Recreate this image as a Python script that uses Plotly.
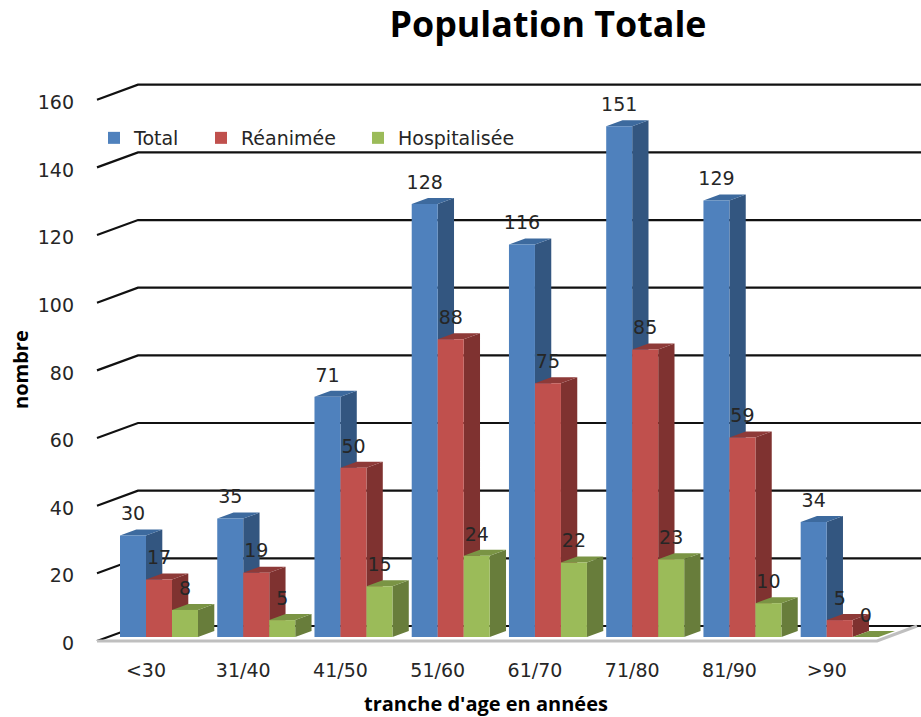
import plotly.graph_objects as go

categories = ["<30", "31/40", "41/50", "51/60", "61/70", "71/80", "81/90", ">90"]
total = [30, 35, 71, 128, 116, 151, 129, 34]
reanimee = [17, 19, 50, 88, 75, 85, 59, 5]
hospitalisee = [8, 5, 15, 24, 22, 23, 10, 0]
y_ticks = [0, 20, 40, 60, 80, 100, 120, 140, 160]

W, H = 921, 717
PX_PER_CAT = 97.24
PX_PER_UNIT = 3.383
CAT0_PX = 146.0
BASE_PX = 637.0
L, R, T, B = 75, 0, 70, 657  # plot area: left px, right margin, top px, bottom px


def ux(px):
    return (px - CAT0_PX) / PX_PER_CAT


def uy(py):
    return (BASE_PX - py) / PX_PER_UNIT


bar_w = 26.0 / PX_PER_CAT
depth_x = 16.3 / PX_PER_CAT
depth_y = 6.0 / PX_PER_UNIT
wall_front = uy(641.0)
wall_back = uy(626.0)
tick_label_pos = uy(643.5)
front_x = ux(97.0)
back_x = ux(138.0)
label_gap = 20.0 / PX_PER_UNIT

series = [
    ("Total", total, -1, "#4F81BD", "#335680", "#3D6A9E", 62),
    ("Réanimée", reanimee, 0, "#C0504D", "#7F3230", "#8E3A38", 112),
    ("Hospitalisée", hospitalisee, 1, "#9BBB59", "#687D3B", "#7A9444", 125),
]
text_font = dict(family="DejaVu Sans", size=19, color="#262626")
title_font = dict(family="Open Sans", size=20, color="#000000")

fig = go.Figure()

for t in y_ticks:
    fig.add_trace(go.Scatter(
        x=[front_x, back_x, ux(W + 2)],
        y=[t + wall_front, t + wall_back, t + wall_back],
        mode="lines", line=dict(color="#111111", width=2.2),
        showlegend=False, hoverinfo="skip", zorder=0))

fig.add_trace(go.Scatter(
    x=[front_x, ux(877), ux(917)],
    y=[wall_front, wall_front, wall_back],
    mode="lines", line=dict(color="#BFBFBF", width=3),
    showlegend=False, hoverinfo="skip", zorder=1))

idx = list(range(len(categories)))
z = 2
for name, vals, pos, col, side_col, top_col, lw in series:
    sx, sy, tx, ty = [], [], [], []
    for i, v in zip(idx, vals):
        x0 = i + pos * bar_w
        x1 = x0 + bar_w
        sx += [x1, x1 + depth_x, x1 + depth_x, x1, x1, None]
        sy += [0, depth_y, v + depth_y, v, 0, None]
        tx += [x0, x0 + depth_x, x1 + depth_x, x1, x0, None]
        ty += [v, v + depth_y, v + depth_y, v, v, None]
    fig.add_trace(go.Scatter(x=sx, y=sy, mode="lines", fill="toself", fillcolor=side_col,
                             line=dict(width=0, color=side_col), showlegend=False,
                             hoverinfo="skip", zorder=z))
    fig.add_trace(go.Scatter(x=tx, y=ty, mode="lines", fill="toself", fillcolor=top_col,
                             line=dict(width=0, color=top_col), showlegend=False,
                             hoverinfo="skip", zorder=z))
    fig.add_trace(go.Bar(x=idx, y=vals, name=name, width=bar_w, offset=pos * bar_w,
                         legendwidth=lw,
                         marker=dict(color=col, line=dict(width=0)), zorder=z + 1))
    z += 2

for name, vals, pos, col, side_col, top_col, lw in series:
    fig.add_trace(go.Scatter(
        x=[i + (pos + 0.5) * bar_w for i in idx],
        y=[v + label_gap for v in vals],
        text=[str(v) for v in vals], mode="text", textposition="middle center",
        textfont=text_font, showlegend=False, hoverinfo="skip", cliponaxis=False, zorder=20))

fig.update_layout(
    width=W, height=H, autosize=False,
    margin=dict(l=L, r=R, t=T, b=H - B, pad=0),
    paper_bgcolor="white", plot_bgcolor="white",
    barmode="overlay", font=text_font,
    title=dict(text="<b>Population Totale</b>", x=548 / W, xref="container", xanchor="center",
               y=1 - 24 / H, yref="container", yanchor="middle",
               font=dict(family="Open Sans", size=35.8, color="#000000")),
    legend=dict(orientation="h", x=(94 - L) / (W - L), y=1 - (138 - T) / (B - T),
                yanchor="middle", xanchor="left", bgcolor="rgba(0,0,0,0)", font=text_font,
                traceorder="normal"),
    xaxis=dict(range=[ux(L), ux(W)], tickmode="array", tickvals=idx, ticktext=categories,
               showgrid=False, zeroline=False, showline=False, ticks="", tickfont=text_font,
               fixedrange=True),
    yaxis=dict(range=[uy(B), uy(T)], tickmode="array",
               tickvals=[t + tick_label_pos for t in y_ticks], ticktext=[str(t) for t in y_ticks],
               showgrid=False, zeroline=False, showline=False, ticks="", tickfont=text_font,
               fixedrange=True),
    annotations=[
        dict(text="<b>tranche d'age en années</b>", xref="paper", yref="paper",
             x=(486 - L) / (W - L), y=1 - (703 - T) / (B - T), xanchor="center", yanchor="middle",
             showarrow=False, font=title_font),
        dict(text="<b>nombre</b>", xref="paper", yref="paper",
             x=(20 - L) / (W - L), y=1 - (370 - T) / (B - T), xanchor="center", yanchor="middle",
             textangle=-90, showarrow=False, font=title_font),
    ],
)

fig.write_html("out.html", post_script="document.body.style.margin='0';",
               config={"displayModeBar": False})
